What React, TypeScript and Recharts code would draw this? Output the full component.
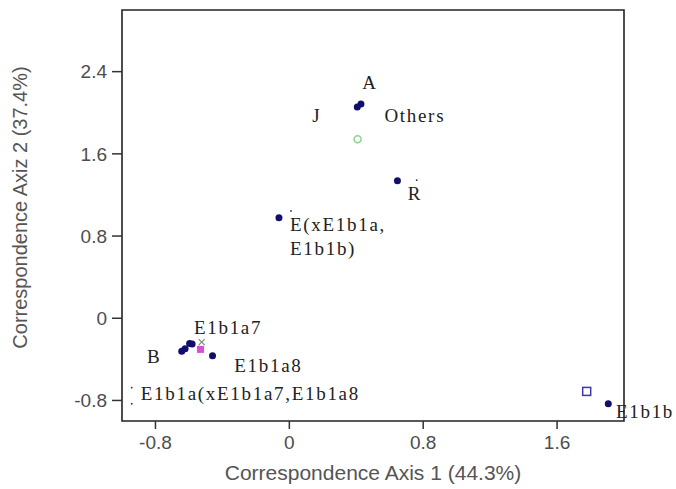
import {
  ScatterChart,
  Scatter,
  XAxis,
  YAxis,
  ReferenceArea,
} from "recharts";

// haplogroup category points (dark blue dots)
const haploPoints = [
  { x: 0.406, y: 2.056 },
  { x: 0.428, y: 2.085 },
  { x: 0.646, y: 1.337 },
  { x: -0.062, y: 0.977 },
  { x: -0.643, y: -0.32 },
  { x: -0.623, y: -0.296 },
  { x: -0.596, y: -0.245 },
  { x: -0.581, y: -0.25 },
  { x: -0.459, y: -0.366 },
  { x: 1.906, y: -0.832 },
];

const greenCircle = [{ x: 0.408, y: 1.741 }];
const pinkSquare = [{ x: -0.531, y: -0.303 }];
const crossMark = [{ x: -0.524, y: -0.232 }];
const openSquare = [{ x: 1.777, y: -0.712 }];
const specks = [
  { x: 0.761, y: 1.344 },
  { x: 0.01, y: 1.045 },
  { x: -0.942, y: -0.676 },
  { x: -0.942, y: -0.832 },
];

const pointLabels = [
  { x: 0.482, y: 2.29, text: "A", anchor: "middle" },
  { x: 0.164, y: 1.97, text: "J", anchor: "middle" },
  { x: 0.568, y: 1.97, text: "Others", anchor: "start" },
  { x: 0.751, y: 1.217, text: "R", anchor: "middle" },
  { x: 0.004, y: 0.915, text: "E(xE1b1a,", anchor: "start" },
  { x: 0.004, y: 0.681, text: "E1b1b)", anchor: "start" },
  { x: -0.57, y: -0.088, text: "E1b1a7", anchor: "start" },
  { x: -0.807, y: -0.37, text: "B", anchor: "middle" },
  { x: -0.329, y: -0.458, text: "E1b1a8", anchor: "start" },
  { x: -0.888, y: -0.73, text: "E1b1a(xE1b1a7,E1b1a8", anchor: "start" },
  { x: 1.952, y: -0.907, text: "E1b1b", anchor: "start" },
];

const xTicks = [-0.8, 0, 0.8, 1.6];
const yTicks = [-0.8, 0, 0.8, 1.6, 2.4];
const xTitle = "Correspondence Axis 1 (44.3%)";
const yTitle = "Correspondence Axiz 2 (37.4%)";

const sans = "'Liberation Sans', Arial, sans-serif";
const serif = "'Liberation Serif', 'Times New Roman', serif";

const Dot = (p: any) => <circle cx={p.cx} cy={p.cy} r={3.5} fill="#120f6c" />;
const Speck = (p: any) => <circle cx={p.cx} cy={p.cy} r={0.9} fill="#333" />;
const HollowCircle = (p: any) => (
  <circle cx={p.cx} cy={p.cy} r={3.5} fill="#fff" stroke="#8fd08f" strokeWidth={1.5} />
);
const PinkSq = (p: any) => (
  <rect x={p.cx - 3.5} y={p.cy - 3.5} width={7} height={7} fill="#d64fd6" />
);
const OpenSq = (p: any) => (
  <rect x={p.cx - 4} y={p.cy - 4} width={8} height={8} fill="#fff" stroke="#3b38a8" strokeWidth={1.5} />
);
const Cross = (p: any) => (
  <g stroke="#6f8f6f" strokeWidth={1.2}>
    <line x1={p.cx - 3} y1={p.cy - 3} x2={p.cx + 3} y2={p.cy + 3} />
    <line x1={p.cx - 3} y1={p.cy + 3} x2={p.cx + 3} y2={p.cy - 3} />
  </g>
);
const LabelText = (p: any) => (
  <text
    x={p.cx}
    y={p.cy}
    textAnchor={p.payload.anchor}
    dominantBaseline="central"
    fontFamily={serif}
    fontSize={19}
    letterSpacing={1.7}
    fill="#222"
  >
    {p.payload.text}
  </text>
);

const YTitle = (props: any) => {
  const vb = props.viewBox;
  const cx = vb.x + 20;
  const cy = vb.y + vb.height / 2 - 8;
  return (
    <text
      x={cx}
      y={cy}
      transform={`rotate(-90 ${cx} ${cy})`}
      textAnchor="middle"
      dominantBaseline="central"
      fontFamily={sans}
      fontSize={20}
      fill="#555"
    >
      {yTitle}
    </text>
  );
};

export default function App() {
  return (
    <div style={{ width: 676, height: 489, background: "#fff" }}>
      <style>{"body{margin:0}"}</style>
      <ScatterChart width={676} height={489} margin={{ top: 10, right: 52, bottom: 0, left: 0 }}>
        <XAxis
          type="number"
          dataKey="x"
          domain={[-1, 2]}
          ticks={xTicks}
          interval={0}
          height={68}
          axisLine={false}
          tickSize={8}
          tickMargin={7}
          tickLine={{ stroke: "#333", strokeWidth: 1.5 }}
          tick={{ fill: "#4d4d4d", fontSize: 19, fontFamily: sans }}
          label={{ value: xTitle, position: "insideBottom", offset: 9, fill: "#555", fontSize: 21, fontFamily: sans }}
        />
        <YAxis
          type="number"
          dataKey="y"
          domain={[-1, 3]}
          ticks={yTicks}
          interval={0}
          width={122}
          axisLine={false}
          tickSize={10}
          tickMargin={5}
          tickLine={{ stroke: "#333", strokeWidth: 1.5 }}
          tick={{ fill: "#4d4d4d", fontSize: 19, fontFamily: sans }}
          label={<YTitle />}
        />
        <ReferenceArea x1={-1} x2={2} y1={-1} y2={3} fill="none" fillOpacity={0} stroke="#222" strokeWidth={1.6} />
        <Scatter data={specks} shape={Speck} isAnimationActive={false} />
        <Scatter data={greenCircle} shape={HollowCircle} isAnimationActive={false} />
        <Scatter data={openSquare} shape={OpenSq} isAnimationActive={false} />
        <Scatter data={haploPoints} shape={Dot} isAnimationActive={false} />
        <Scatter data={pinkSquare} shape={PinkSq} isAnimationActive={false} />
        <Scatter data={crossMark} shape={Cross} isAnimationActive={false} />
        <Scatter data={pointLabels} shape={LabelText} isAnimationActive={false} />
      </ScatterChart>
    </div>
  );
}
